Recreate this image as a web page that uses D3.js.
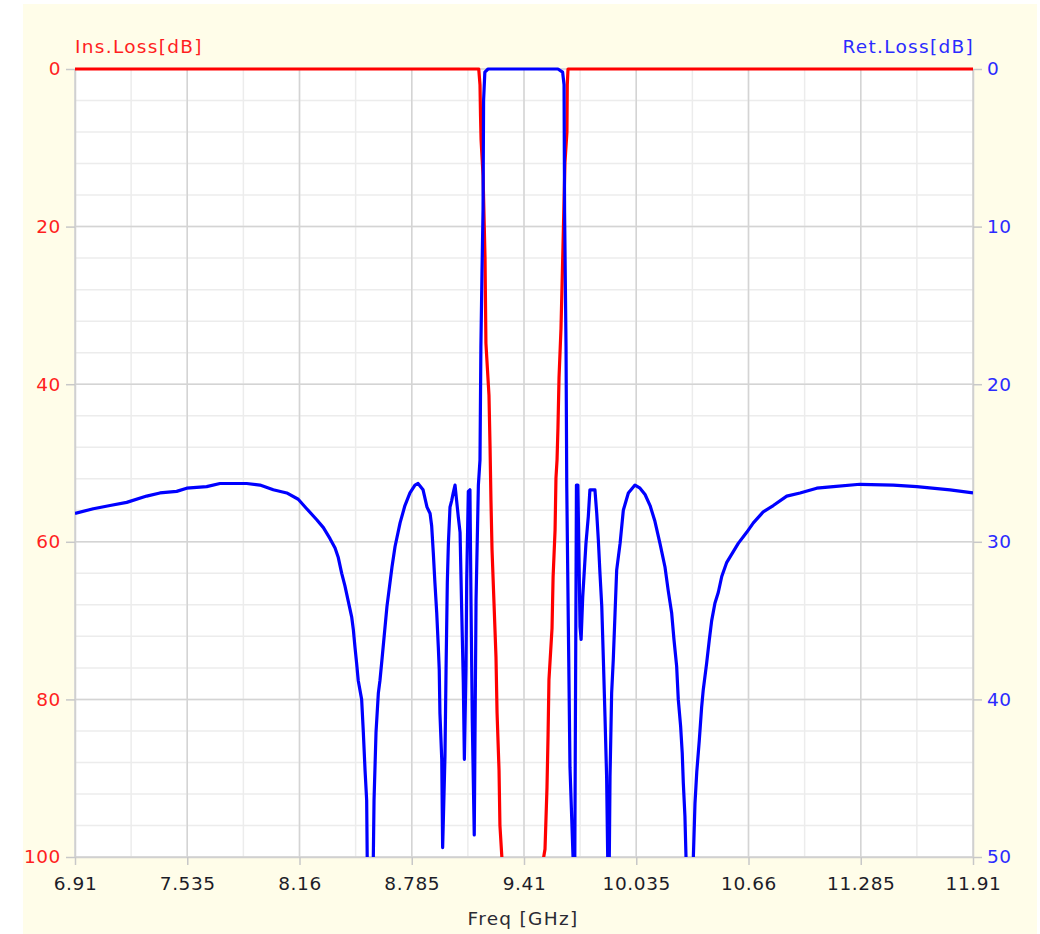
<!DOCTYPE html>
<html>
<head>
<meta charset="utf-8">
<script src="https://cdn.jsdelivr.net/npm/d3@7"></script>
<style>
	html, body { margin: 0; padding: 0; background: #ffffff; }
	svg { display: block; font-family: "DejaVu Sans", Verdana, sans-serif; }
</style>
</head>
<body>
<svg id="chart" width="1040" height="934"></svg>
<script>
// x axis ticks (GHz) and the two y axes (dB, inverted)
const freqTicks = [6.91, 7.535, 8.16, 8.785, 9.41, 10.035, 10.66, 11.285, 11.91];
const insTicks = [0, 20, 40, 60, 80, 100];
const retTicks = [0, 10, 20, 30, 40, 50];

// Insertion loss (red, left axis) - values below 100 dB are off the chart
const insFreq = [6.910, 9.158, 9.165, 9.168, 9.171, 9.182, 9.193, 9.198, 9.215, 9.221, 9.226, 9.232,
	9.243, 9.254, 9.260, 9.271, 9.276, 9.288, 9.400, 9.516, 9.527, 9.538, 9.544, 9.549, 9.566,
	9.572, 9.583, 9.588, 9.594, 9.599, 9.605, 9.616, 9.627, 9.638, 9.649, 9.651, 9.655, 11.910];
const insLoss = [0, 0, 2, 6, 9, 13.5, 24, 34.8, 41.4, 48, 54.7, 61,
	67.8, 74.6, 81.7, 89, 96, 100.5, 115, 100.5, 99, 91.2, 84.5, 77.5, 71,
	64.5, 58.5, 51.9, 49.6, 45.6, 39.2, 32.9, 22.6, 11.9, 8, 2, 0, 0];

// Return loss (blue, right axis)
const retFreq = [6.910, 7.012, 7.105, 7.198, 7.309, 7.383, 7.476, 7.532, 7.643, 7.717, 7.866, 7.940,
	8.014, 8.089, 8.153, 8.200, 8.256, 8.293, 8.330, 8.358, 8.376, 8.395, 8.413, 8.432, 8.451,
	8.460, 8.469, 8.478, 8.487, 8.506, 8.515, 8.525, 8.534, 8.537, 8.553, 8.571, 8.575, 8.586,
	8.599, 8.608, 8.619, 8.647, 8.675, 8.692, 8.720, 8.747, 8.775, 8.803, 8.820, 8.848, 8.870,
	8.887, 8.896, 8.905, 8.914, 8.924, 8.933, 8.938, 8.942, 8.952, 8.957, 8.970, 8.976, 8.983,
	8.989, 8.998, 9.007, 9.016, 9.026, 9.035, 9.044, 9.054, 9.063, 9.072, 9.078, 9.087, 9.091,
	9.100, 9.109, 9.115, 9.122, 9.133, 9.143, 9.156, 9.165, 9.170, 9.176, 9.182, 9.185, 9.192,
	9.210, 9.599, 9.625, 9.633, 9.636, 9.644, 9.648, 9.657, 9.666, 9.683, 9.688, 9.693, 9.702,
	9.710, 9.722, 9.728, 9.737, 9.755, 9.768, 9.777, 9.805, 9.815, 9.824, 9.833, 9.843, 9.852,
	9.861, 9.870, 9.876, 9.880, 9.885, 9.889, 9.898, 9.907, 9.917, 9.926, 9.945, 9.963, 9.991,
	10.028, 10.056, 10.084, 10.112, 10.139, 10.167, 10.195, 10.213, 10.232, 10.245, 10.260, 10.269,
	10.282, 10.291, 10.297, 10.306, 10.312, 10.331, 10.353, 10.362, 10.372, 10.386, 10.399, 10.408,
	10.427, 10.442, 10.455, 10.473, 10.492, 10.511, 10.539, 10.566, 10.603, 10.650, 10.687, 10.742,
	10.798, 10.873, 10.947, 11.040, 11.132, 11.281, 11.466, 11.597, 11.782, 11.910];
const retLoss = [28.2, 27.9, 27.7, 27.5, 27.1, 26.9, 26.8, 26.6, 26.5, 26.3, 26.3, 26.4,
	26.7, 26.9, 27.3, 27.9, 28.6, 29.1, 29.8, 30.4, 31.0, 32.0, 32.8, 33.8, 34.8,
	35.6, 36.7, 37.7, 38.8, 40.0, 42.0, 44.5, 46.4, 50, 58, 50, 46.4, 42.1,
	39.6, 38.8, 37.5, 34.1, 31.6, 30.3, 28.8, 27.7, 26.9, 26.4, 26.3, 26.7, 27.8,
	28.2, 29.0, 30.7, 32.6, 34.5, 36.7, 38.1, 40.9, 43.8, 49.4, 43.6, 38.1, 32.6,
	30.1, 27.8, 27.4, 26.9, 26.4, 27.4, 28.4, 29.4, 34.3, 38.9, 43.8, 38.1, 32.4,
	26.8, 26.7, 33.9, 41.3, 48.6, 33.7, 26.4, 24.8, 17.6, 13, 8.9, 2, 0.2,
	0, 0, 0.2, 1, 9.1, 17.6, 26.4, 35.4, 44.3, 50, 56, 50, 26.4,
	26.4, 35.4, 36.2, 33.5, 30.1, 28.4, 26.7, 26.7, 28.2, 29.9, 32.0, 34.1, 37.5,
	41.1, 44.9, 50, 55, 50, 44.9, 39.6, 37.5, 34.5, 31.8, 30.1, 28.0, 26.9,
	26.4, 26.6, 27.0, 27.7, 28.7, 30.1, 31.6, 33.1, 34.5, 36.2, 37.9, 40.0,
	41.7, 43.4, 45.3, 47.4, 50, 58, 50, 46.6, 44.6, 42.6, 40.5, 39.4,
	37.7, 36.2, 35.0, 33.9, 33.2, 32.2, 31.3, 30.8, 30.1, 29.4, 28.8, 28.1,
	27.7, 27.1, 26.9, 26.6, 26.5, 26.35, 26.4, 26.5, 26.7, 26.9];

const svg = d3.select("#chart"),
	width = +svg.attr("width"),
	height = +svg.attr("height");

const plot = { left: 75, right: 973, top: 69, bottom: 857 };
const fontSize = "18.5px";

const x = d3.scaleLinear().domain([6.91, 11.91]).range([plot.left, plot.right]);
const yIns = d3.scaleLinear().domain([0, 100]).range([plot.top, plot.bottom]);
const yRet = d3.scaleLinear().domain([0, 50]).range([plot.top, plot.bottom]);

// cream panel behind everything
svg.append("rect")
	.attr("x", 23).attr("y", 4)
	.attr("width", width - 26).attr("height", height - 4)
	.attr("fill", "#fffde9");

svg.append("rect")
	.attr("x", plot.left).attr("y", plot.top)
	.attr("width", plot.right - plot.left).attr("height", plot.bottom - plot.top)
	.attr("fill", "#ffffff");

// grid: minor lines every half x step and every 4 dB (left axis)
const grid = svg.append("g");
const xStep = 0.625;
const xMinor = d3.range(0, 17).map(i => 6.91 + i * xStep / 2);
const yMinor = d3.range(0, 26).map(i => i * 4);

grid.selectAll(".vminor").data(xMinor).enter().append("line")
	.attr("x1", d => x(d)).attr("x2", d => x(d))
	.attr("y1", plot.top).attr("y2", plot.bottom)
	.attr("stroke", "#ececec").attr("stroke-width", 1.5);
grid.selectAll(".hminor").data(yMinor).enter().append("line")
	.attr("x1", plot.left).attr("x2", plot.right)
	.attr("y1", d => yIns(d)).attr("y2", d => yIns(d))
	.attr("stroke", "#ececec").attr("stroke-width", 1.5);
grid.selectAll(".vmajor").data(freqTicks).enter().append("line")
	.attr("x1", d => x(d)).attr("x2", d => x(d))
	.attr("y1", plot.top).attr("y2", plot.bottom)
	.attr("stroke", "#d4d4d4").attr("stroke-width", 1.5);
grid.selectAll(".hmajor").data(insTicks).enter().append("line")
	.attr("x1", plot.left).attr("x2", plot.right)
	.attr("y1", d => yIns(d)).attr("y2", d => yIns(d))
	.attr("stroke", "#d4d4d4").attr("stroke-width", 1.5);

// axes
function styleAxis(g, color) {
	g.select(".domain").attr("stroke", "#d0d0d0").attr("stroke-width", 1.5);
	g.selectAll(".tick line").attr("stroke", "#c8c8c8").attr("stroke-width", 1.5);
	g.selectAll(".tick text")
		.attr("fill", color)
		.style("font-size", fontSize)
		.style("letter-spacing", "0.6px")
		.style("font-family", "'DejaVu Sans', Verdana, sans-serif");
}

svg.append("g")
	.attr("transform", `translate(${plot.left},0)`)
	.call(d3.axisLeft(yIns).tickValues(insTicks).tickSize(9).tickPadding(5).tickSizeOuter(0))
	.call(g => styleAxis(g, "#ff1f1f"));

svg.append("g")
	.attr("transform", `translate(${plot.right},0)`)
	.call(d3.axisRight(yRet).tickValues(retTicks).tickSize(9).tickPadding(5).tickSizeOuter(0))
	.call(g => styleAxis(g, "#2b2bff"));

svg.append("g")
	.attr("transform", `translate(0,${plot.bottom})`)
	.call(d3.axisBottom(x).tickValues(freqTicks).tickFormat(d => String(d)).tickSize(8).tickPadding(12).tickSizeOuter(0))
	.call(g => styleAxis(g, "#1c1c28"));

// axis titles
svg.append("text")
	.attr("x", plot.left).attr("y", 52.5)
	.attr("fill", "#ff1f1f")
	.style("font-size", fontSize).style("letter-spacing", "1.3px")
	.text("Ins.Loss[dB]");

svg.append("text")
	.attr("x", plot.right + 1).attr("y", 52.5)
	.attr("text-anchor", "end")
	.attr("fill", "#2b2bff")
	.style("font-size", fontSize).style("letter-spacing", "1.3px")
	.text("Ret.Loss[dB]");

svg.append("text")
	.attr("x", (plot.left + plot.right) / 2 - 1).attr("y", 925)
	.attr("text-anchor", "middle")
	.attr("fill", "#2a2a33")
	.style("font-size", fontSize).style("letter-spacing", "1.3px")
	.text("Freq [GHz]");

// curves, clipped to the plot (a bit of room on top for the 0 dB line)
svg.append("clipPath").attr("id", "plot-clip")
	.append("rect")
	.attr("x", plot.left).attr("y", plot.top - 4)
	.attr("width", plot.right - plot.left).attr("height", plot.bottom - plot.top + 4);

const curves = svg.append("g").attr("clip-path", "url(#plot-clip)");

const insData = insFreq.map((f, i) => [f, insLoss[i]]);
const retData = retFreq.map((f, i) => [f, retLoss[i]]);

curves.append("path")
	.datum(insData)
	.attr("fill", "none")
	.attr("stroke", "#ff0000")
	.attr("stroke-width", 3.2)
	.attr("stroke-linejoin", "round")
	.attr("d", d3.line().x(d => x(d[0])).y(d => yIns(d[1])));

curves.append("path")
	.datum(retData)
	.attr("fill", "none")
	.attr("stroke", "#0000ff")
	.attr("stroke-width", 3.2)
	.attr("stroke-linejoin", "round")
	.attr("d", d3.line().x(d => x(d[0])).y(d => yRet(d[1])));
</script>
</body>
</html>
